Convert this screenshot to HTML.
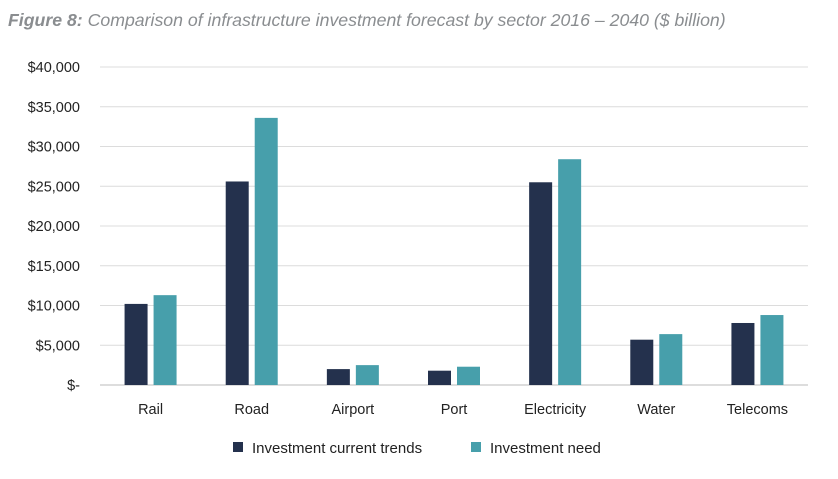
<!DOCTYPE html>
<html><head><meta charset="utf-8"><style>
body{margin:0;background:#fff;width:838px;height:474px;overflow:hidden;font-family:"Liberation Sans",sans-serif}
</style></head><body>
<svg id="chart" width="838" height="474">
<text x="8" y="26" font-size="17.7" font-style="italic" fill="#8a8d90"><tspan font-weight="bold">Figure 8:</tspan> Comparison of infrastructure investment forecast by sector 2016 – 2040 ($ billion)</text>
<g id="grid"></g><g id="bars"></g><g id="xl"></g>
<g>
<rect x="233" y="442" width="10" height="10" fill="#24314d"/>
<text x="252" y="453" font-size="15" fill="#222">Investment current trends</text>
<rect x="471" y="442" width="10" height="10" fill="#479fab"/>
<text x="490" y="453" font-size="15" fill="#222">Investment need</text>
</g>
</svg>
<script>
const categories=["Rail","Road","Airport","Port","Electricity","Water","Telecoms"];
const currentTrends=[10200,25600,2000,1800,25500,5700,7800];
const investmentNeed=[11300,33600,2500,2300,28400,6400,8800];
const yTicks=[0,5000,10000,15000,20000,25000,30000,35000,40000];
const yTickLabels=["$-","$5,000","$10,000","$15,000","$20,000","$25,000","$30,000","$35,000","$40,000"];
const NS="http://www.w3.org/2000/svg";
const y0=385,y1=67,x0=100,x1=808;
function y(v){return y0-(v/40000)*(y0-y1);}
function xc(i){return x0+(x1-x0)*(i+0.5)/categories.length;}
function mk(t,a,p){const e=document.createElementNS(NS,t);for(const k in a)e.setAttribute(k,a[k]);p.appendChild(e);return e;}
const g=document.getElementById('grid'),b=document.getElementById('bars'),xl=document.getElementById('xl');
yTicks.forEach((v,i)=>{
 const l=mk('line',{x1:x0,x2:x1,y1:y(v),y2:y(v),stroke:i==0?'#bbb':'#dcdcdc','stroke-width':1},g);
 
 
 const t=mk('text',{x:80,y:y(v)+5,'text-anchor':'end','font-size':14.5,fill:'#222'},g);
 t.textContent=yTickLabels[i];
 
 
});
categories.forEach((c,i)=>{
 const cx=xc(i);
 const r1=mk('rect',{x:cx-26,y:y(currentTrends[i]),width:23,height:y0-y(currentTrends[i]),fill:'#24314d'},b);
 
 
 const r2=mk('rect',{x:cx+3,y:y(investmentNeed[i]),width:23,height:y0-y(investmentNeed[i]),fill:'#479fab'},b);
 
 
 const t=mk('text',{x:cx,y:414,'text-anchor':'middle','font-size':14.5,fill:'#222'},xl);
 t.textContent=c;
 
 
});
</script>
</body></html>
